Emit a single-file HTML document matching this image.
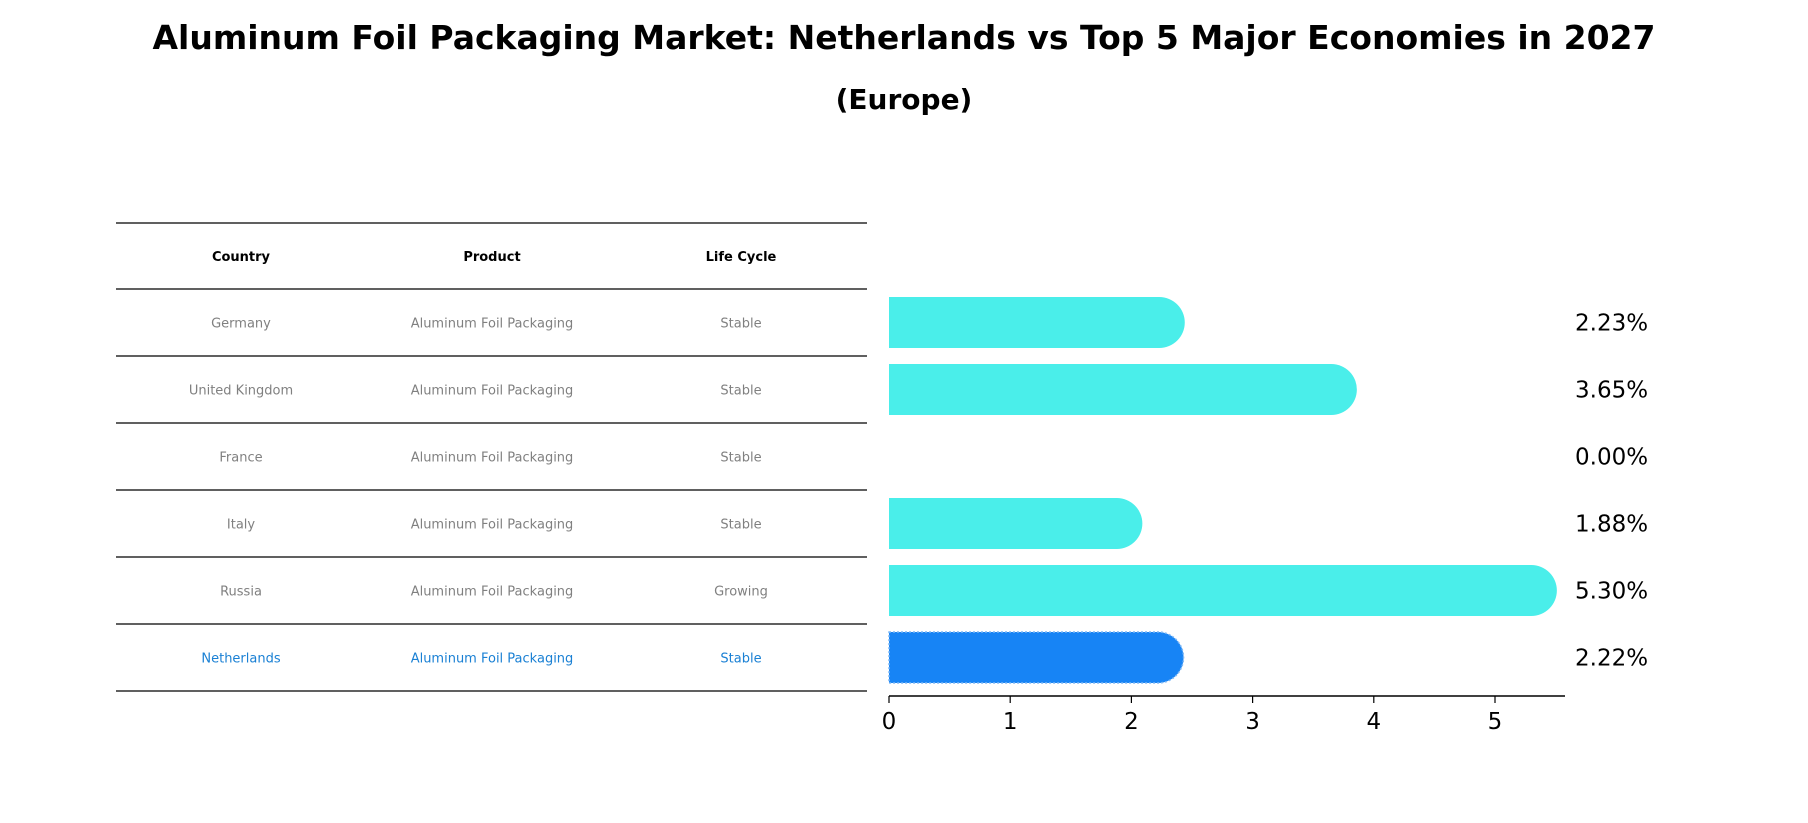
<!DOCTYPE html>
<html><head><meta charset="utf-8"><style>
body{margin:0;background:#fff;}
svg{display:block;font-family:"DejaVu Sans","Liberation Sans",sans-serif;}
</style></head><body>
<svg id="chart" width="1808" height="823" viewBox="0 0 1808 823" xmlns="http://www.w3.org/2000/svg">
<text x="904" y="49" text-anchor="middle" font-size="33" font-weight="bold">Aluminum Foil Packaging Market: Netherlands vs Top 5 Major Economies in 2027</text>
<text x="904" y="109" text-anchor="middle" font-size="28" font-weight="bold">(Europe)</text>
<g id="table"></g>
<g id="bars"></g>
<g id="axis"></g>
</svg>
<script>
const countries = ["Germany","United Kingdom","France","Italy","Russia","Netherlands"];
const products = ["Aluminum Foil Packaging","Aluminum Foil Packaging","Aluminum Foil Packaging","Aluminum Foil Packaging","Aluminum Foil Packaging","Aluminum Foil Packaging"];
const lifeCycles = ["Stable","Stable","Stable","Stable","Growing","Stable"];
const values = [2.23,3.65,0.00,1.88,5.30,2.22];
const valueLabels = ["2.23%","3.65%","0.00%","1.88%","5.30%","2.22%"];
const tickValues = [0,1,2,3,4,5];
const headers = ["Country","Product","Life Cycle"];

const NS="http://www.w3.org/2000/svg";
function mk(tag,attrs,parent){const e=document.createElementNS(NS,tag);for(const k in attrs)e.setAttribute(k,attrs[k]);parent.appendChild(e);return e;}
const x0=889, unit=121.2;
function xScale(v){return x0+v*unit;}
const rowTop=289, rowH=67;
function yRow(i){return rowTop+rowH*i+rowH/2;}
const colX=[241,492,741];

const table=document.getElementById('table');
const lineYs=[223];
for(let i=0;i<=countries.length;i++)lineYs.push(rowTop+rowH*i);
lineYs.forEach(y=>{
  const l=mk('line',{x1:116,x2:867,y1:y,y2:y,stroke:'#000','stroke-width':1.2},table);
  
  
});
headers.forEach((h,j)=>{
  const t=mk('text',{x:colX[j],y:261,'text-anchor':'middle','font-size':13,'font-weight':'bold'},table);
  t.textContent=h;
  
  
});
countries.forEach((c,i)=>{
  const col=c==="Netherlands"?'#1a80d4':'#808080';
  [c,products[i],lifeCycles[i]].forEach((v,j)=>{
    const t=mk('text',{x:colX[j],y:yRow(i)+5,'text-anchor':'middle','font-size':13,fill:col},table);
    t.textContent=v;
    
    
  });
});

const bars=document.getElementById('bars');
const bh=51, r=bh/2;
values.forEach((v,i)=>{
  const yc=yRow(i);
  const isNL=countries[i]==="Netherlands";
  if(v>0){
    const xe=xScale(v);
    const d=`M${x0},${yc-r} L${xe},${yc-r} A${r},${r} 0 0 1 ${xe},${yc+r} L${x0},${yc+r} Z`;
    const p=mk('path',{d:d,fill:isNL?'#1784f5':'#4aeeea'},bars);
    if(isNL){p.setAttribute('stroke','#7fb8f5');p.setAttribute('stroke-width',1.5);p.setAttribute('stroke-dasharray','2,2');}
    
    
  }
  const t=mk('text',{x:1575,y:yc+8,'font-size':23},bars);
  t.textContent=valueLabels[i];
  
  
});

const axis=document.getElementById('axis');
const ay=696;
const al=mk('line',{x1:x0,x2:1565,y1:ay,y2:ay,stroke:'#000','stroke-width':1.5},axis);


tickValues.forEach(v=>{
  const x=xScale(v);
  const tk=mk('line',{x1:x,x2:x,y1:ay,y2:ay+7,stroke:'#000','stroke-width':1.2},axis);
  
  
  const t=mk('text',{x:x,y:ay+33,'text-anchor':'middle','font-size':23},axis);
  t.textContent=String(v);
  
  
});
</script>
</body></html>
